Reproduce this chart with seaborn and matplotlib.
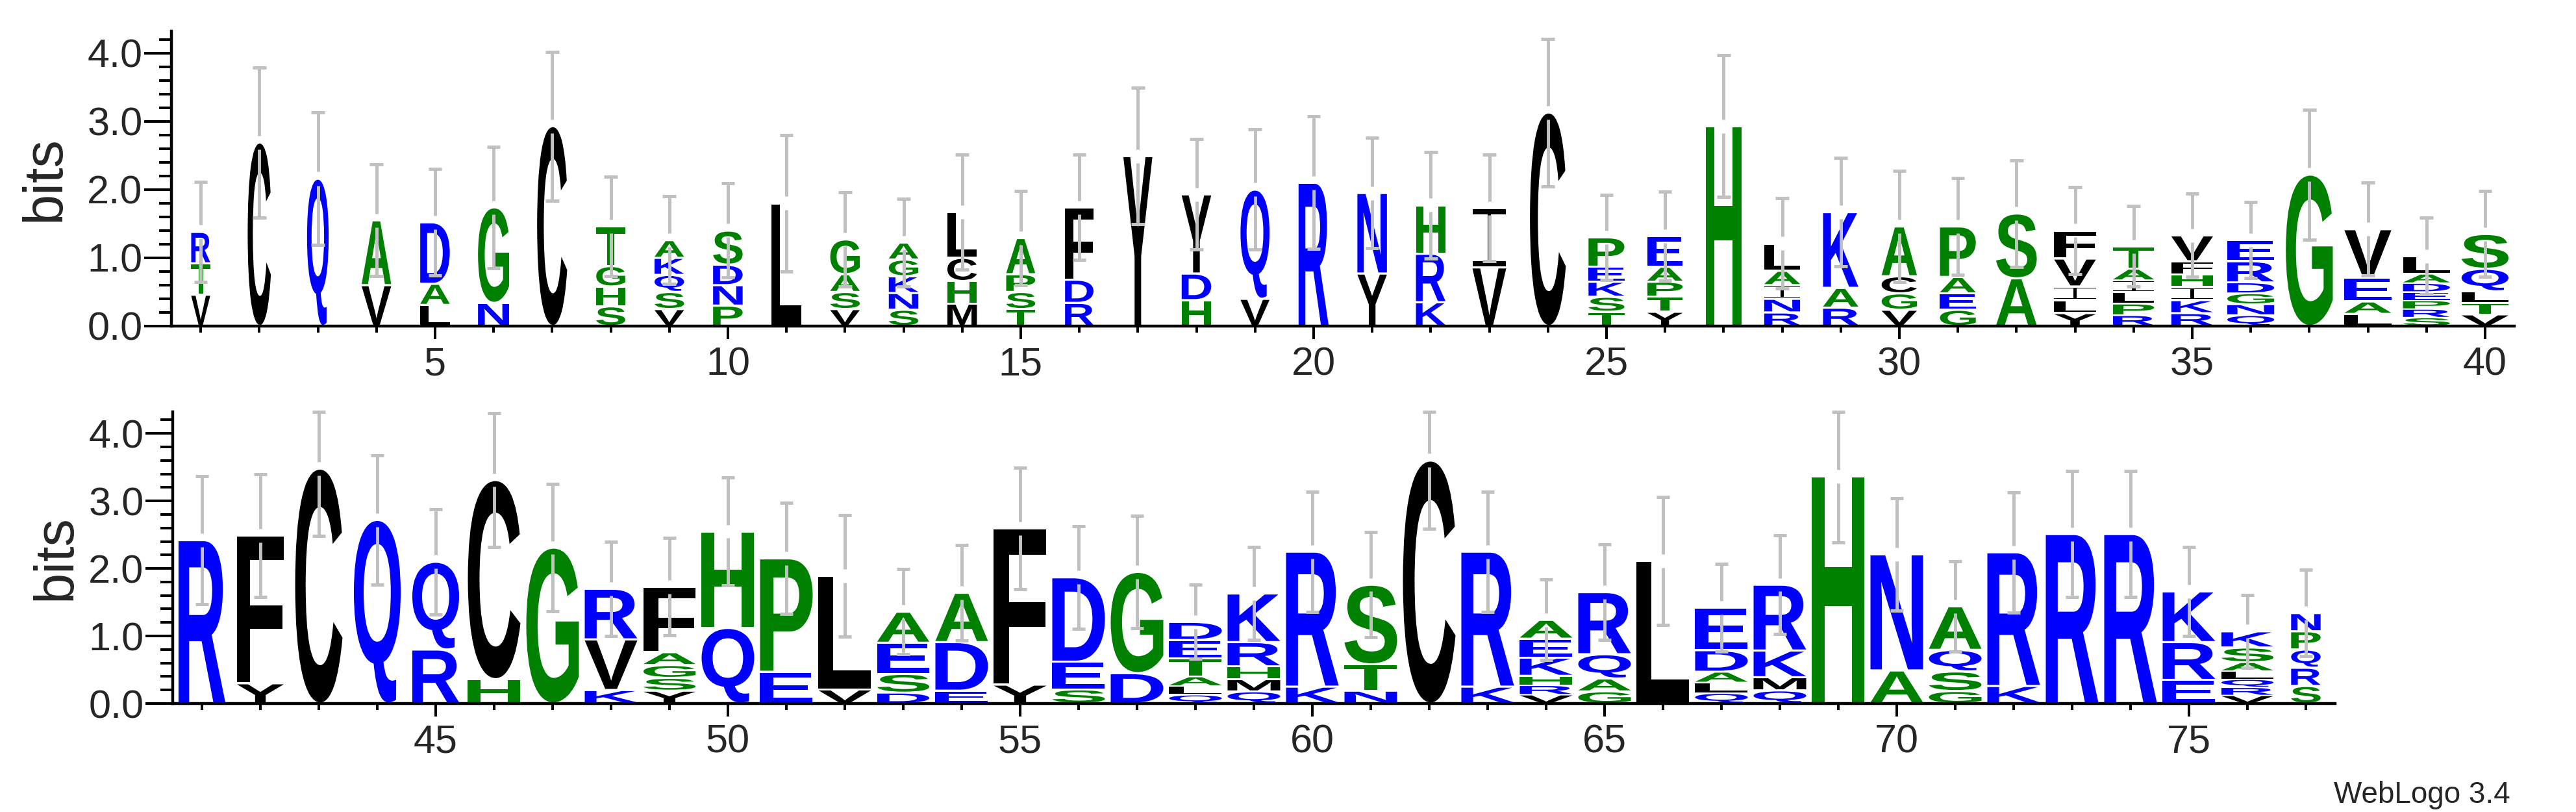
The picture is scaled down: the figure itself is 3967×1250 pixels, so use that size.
import matplotlib
matplotlib.use("Agg")
import matplotlib.pyplot as plt
import seaborn as sns
from matplotlib.textpath import TextPath
from matplotlib.font_manager import FontProperties
from matplotlib.patches import PathPatch
from matplotlib.path import Path
from matplotlib.transforms import Affine2D
from matplotlib.ticker import MultipleLocator, FixedLocator

# ---------------- data (letters listed top -> bottom, heights in bits) ----------------
top_positions = list(range(1, 41))
top_letters = ["RTV", "C", "Q", "AV", "DAL", "GN", "C", "TGHS", "AKQSV", "SDNP",
               "L", "GASV", "AGKNS", "LCHM", "APST", "FDR", "Y", "YDH", "QV", "R",
               "NY", "HRK", "IV", "C", "PEKST", "EAPTY", "H", "LAINR", "KAR", "ACGV",
               "PAEG", "SA", "FVILY", "TAILPR", "VFHIKR", "ERDGNQ", "G", "VEAL", "LADEPRS", "SQLTV"]
top_heights = [[0.46, 0.46, 0.46], [2.69], [2.16], [0.95, 0.60], [0.90, 0.31, 0.31],
               [1.40, 0.34], [2.93], [0.58, 0.30, 0.29, 0.29], [0.26, 0.25, 0.25, 0.25, 0.25],
               [0.50, 0.30, 0.30, 0.30],
               [1.80], [0.51, 0.26, 0.25, 0.25], [0.25, 0.245, 0.245, 0.245, 0.24],
               [0.67, 0.34, 0.33, 0.33], [0.53, 0.26, 0.25, 0.25], [1.06, 0.34, 0.34], [2.49],
               [1.16, 0.39, 0.38], [1.60, 0.40], [2.10],
               [1.18, 0.77], [0.71, 0.71, 0.35], [0.87, 0.86], [3.13], [0.43, 0.22, 0.22, 0.22, 0.21],
               [0.45, 0.22, 0.22, 0.22, 0.21], [2.93], [0.40, 0.21, 0.20, 0.20, 0.20],
               [1.11, 0.29, 0.27], [0.73, 0.25, 0.24, 0.24],
               [0.74, 0.24, 0.24, 0.24], [0.95, 0.70], [0.41, 0.41, 0.20, 0.19, 0.19],
               [0.33, 0.17, 0.17, 0.17, 0.17, 0.16], [0.38, 0.19, 0.19, 0.19, 0.19, 0.19],
               [0.31, 0.31, 0.16, 0.16, 0.16, 0.16], [2.22], [0.71, 0.35, 0.18, 0.18],
               [0.26, 0.135, 0.13, 0.125, 0.125, 0.125, 0.125], [0.51, 0.33, 0.17, 0.17, 0.17]]
top_errors = [0.73, 1.10, 0.97, 0.82, 0.78, 0.89, 1.09, 0.73, 0.64, 0.69,
              1.00, 0.69, 0.64, 0.84, 0.69, 0.77, 1.00, 0.81, 0.88, 0.97,
              0.81, 0.78, 0.78, 1.08, 0.62, 0.65, 1.04, 0.66, 0.79, 0.81,
              0.71, 0.78, 0.64, 0.59, 0.61, 0.56, 0.95, 0.68, 0.56, 0.63]
top_widths = [0.36, 0.44, 0.41, 0.56, 0.56, 0.59, 0.57, 0.55, 0.56, 0.56,
              0.57, 0.56, 0.56, 0.56, 0.55, 0.54, 0.55, 0.56, 0.55, 0.57,
              0.56, 0.56, 0.64, 0.68, 0.68, 0.67, 0.68, 0.68, 0.67, 0.67,
              0.68, 0.77, 0.79, 0.78, 0.79, 0.89, 0.89, 0.89, 0.89, 0.89]

bottom_positions = list(range(41, 78))
bottom_letters = ["R", "FY", "C", "Q", "QR", "CH", "G", "RVK", "FAGSY", "HQ",
                  "PE", "LV", "AESD", "ADE", "FY", "DES", "GD", "DETALQ", "KRHMQ", "RK",
                  "STN", "C", "RK", "AEKHRV", "RQAG", "L", "EDALQ", "RKMQ", "H", "NA",
                  "AQSG", "RK", "R", "R", "KRE", "KSALQRV", "NPQRS"]
bottom_heights = [[2.42], [2.19, 0.30], [3.48], [2.72], [1.30, 0.80], [2.95, 0.36], [2.31],
                  [0.75, 0.75, 0.20], [0.97, 0.19, 0.19, 0.19, 0.19], [1.43, 1.12],
                  [1.68, 0.47], [1.68, 0.21], [0.46, 0.46, 0.28, 0.16], [0.73, 0.72, 0.19],
                  [2.31, 0.28], [1.25, 0.41, 0.21], [1.50, 0.45], [0.27, 0.27, 0.27, 0.14, 0.13, 0.13],
                  [0.72, 0.36, 0.19, 0.18, 0.18], [2.00, 0.25],
                  [1.18, 0.39, 0.19], [3.60], [2.00, 0.25], [0.28, 0.28, 0.27, 0.14, 0.14, 0.13],
                  [0.92, 0.36, 0.19, 0.18], [2.11], [0.63, 0.32, 0.16, 0.155, 0.155],
                  [0.975, 0.395, 0.195, 0.195], [3.36], [1.72, 0.49],
                  [0.645, 0.32, 0.29, 0.185], [1.98, 0.26], [2.51], [2.51], [0.75, 0.56, 0.35],
                  [0.24, 0.22, 0.13, 0.12, 0.12, 0.12, 0.12], [0.27, 0.27, 0.27, 0.27, 0.26]]
bottom_errors = [0.95, 0.91, 1.00, 0.96, 0.78, 0.99, 0.94, 0.70, 0.72, 0.80,
                 0.82, 0.90, 0.63, 0.71, 0.90, 0.76, 0.83, 0.55, 0.69, 0.89,
                 0.78, 1.01, 0.89, 0.60, 0.71, 0.95, 0.65, 0.73, 0.97, 0.83,
                 0.67, 0.89, 0.93, 0.93, 0.66, 0.54, 0.64]
bottom_widths = [0.89, 0.89, 0.90, 0.89, 0.89, 1.0, 1.0, 1.0, 0.99, 1.0,
                 1.0, 1.0, 0.99, 1.0, 1.0, 1.0, 1.0, 1.0, 1.0, 1.0,
                 1.0, 1.0, 1.0, 1.0, 1.0, 1.0, 1.0, 1.0, 1.0, 1.0,
                 1.0, 1.0, 1.0, 1.0, 1.0, 0.99, 0.56]

# hydrophobicity colour scheme
color_groups = {"RKDENQ": "#0000ff", "SGHTAP": "#008000", "YVMCLFIW": "#000000"}

# ---------------- style ----------------
sns.set_theme(style="ticks")
plt.rcParams['font.family'] = ['Liberation Sans', 'DejaVu Sans']

YMAX = 4.32
GRAY = "#c0c0c0"

glyph_font = FontProperties(family=["Liberation Sans", "DejaVu Sans"], weight="bold")
_glyph_cache = {}


def letter_color(ch):
    for group, col in color_groups.items():
        if ch in group:
            return col
    return "#000000"


def _rect(x0, y0, x1, y1):
    return Path([(x0, y0), (x1, y0), (x1, y1), (x0, y1), (x0, y0)],
                [Path.MOVETO, Path.LINETO, Path.LINETO, Path.LINETO, Path.CLOSEPOLY])


def _serif_I():
    # WebLogo-style "I": thin full-width bars at top and bottom, thin stem
    bar = 0.09
    stem = 0.045
    return Path.make_compound_path(_rect(0.0, 0.0, 1.0, bar),
                                   _rect(0.5 - stem, bar, 0.5 + stem, 1.0 - bar),
                                   _rect(0.0, 1.0 - bar, 1.0, 1.0))


def glyph(ch):
    if ch not in _glyph_cache:
        if ch == "I":
            p = _serif_I()
        else:
            p = TextPath((0, 0), ch, size=100, prop=glyph_font)
        _glyph_cache[ch] = (p, p.get_extents())
    return _glyph_cache[ch]


def draw_letter(ax, ch, xc, y0, w, h):
    p, ext = glyph(ch)
    pad = min(0.016, h * 0.08)
    hh = h - 2 * pad
    t = (Affine2D().translate(-ext.x0, -ext.y0)
         .scale(w / ext.width, hh / ext.height)
         .translate(xc - w / 2, y0 + pad))
    ax.add_patch(PathPatch(t.transform_path(p), facecolor=letter_color(ch),
                           edgecolor="none", lw=0, clip_on=False, zorder=2))


def draw_logo(ax, positions, letters, heights, errors, widths):
    for x, lets, hs, err, wf in zip(positions, letters, heights, errors, widths):
        w = 0.9 * wf
        y = 0.0
        for ch, h in reversed(list(zip(lets, hs))):
            draw_letter(ax, ch, x, y, w, h)
            y += h
        top = y
        gap = 0.1
        hi = min(top + err, YMAX)
        lo = top - err
        kw = dict(color=GRAY, lw=3.6, solid_capstyle="butt", clip_on=False, zorder=3)
        ax.plot([x, x], [top + gap, hi], **kw)
        ax.plot([x, x], [lo, top - gap], **kw)
        ax.plot([x - 0.115, x + 0.115], [hi, hi], **kw)
        ax.plot([x - 0.115, x + 0.115], [lo, lo], **kw)


def style_axis(ax, positions):
    lo, hi = positions[0] - 0.5, positions[-1] + 0.5
    ax.set_xlim(lo, hi)
    ax.set_ylim(0, YMAX)
    majors = [p for p in positions if p % 5 == 0]
    ax.xaxis.set_major_locator(FixedLocator(majors))
    ax.xaxis.set_minor_locator(FixedLocator(positions))
    ax.set_xticklabels([str(p) for p in majors])
    ax.yaxis.set_major_locator(FixedLocator([0, 1, 2, 3, 4]))
    ax.yaxis.set_minor_locator(MultipleLocator(0.2))
    ax.set_yticklabels(["0.0", "1.0", "2.0", "3.0", "4.0"])
    ax.tick_params(axis="x", which="major", length=14.5, width=2.9, labelsize=44, pad=8, color="black")
    ax.tick_params(axis="x", which="minor", length=7.2, width=2.9, color="black")
    ax.tick_params(axis="y", which="major", length=30, width=2.9, labelsize=44, pad=2, color="black")
    ax.tick_params(axis="y", which="minor", length=13.7, width=2.9, color="black")
    for s in ("left", "bottom"):
        ax.spines[s].set_linewidth(3.2)
        ax.spines[s].set_color("black")
    sns.despine(ax=ax)
    ax.text(-0.0538, 0.5, "bits", transform=ax.transAxes, rotation=90,
            ha="center", va="center", fontsize=61)
    ax.set_facecolor("white")


W, H = 3967, 1250
fig = plt.figure(figsize=(W / 100, H / 100), dpi=100)
fig.patch.set_facecolor("white")
ax_top = fig.add_axes([264 / W, 748 / H, 3608 / W, 454 / H])
ax_bot = fig.add_axes([266 / W, 167 / H, 3330 / W, 449 / H])

draw_logo(ax_top, top_positions, top_letters, top_heights, top_errors, top_widths)
draw_logo(ax_bot, bottom_positions, bottom_letters, bottom_heights, bottom_errors, bottom_widths)
style_axis(ax_top, top_positions)
style_axis(ax_bot, bottom_positions)

fig.text(3866 / W, 14 / H, "WebLogo 3.4", ha="right", va="baseline", fontsize=33)

fig.savefig("out.png", dpi=100, facecolor="white")
